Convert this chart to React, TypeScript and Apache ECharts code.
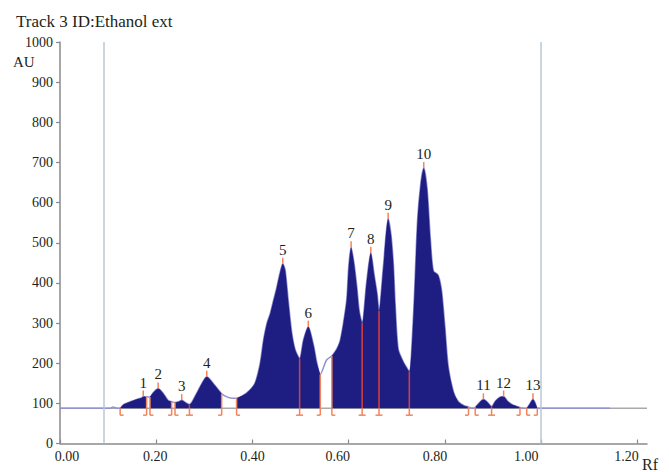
import React, { useEffect, useRef } from 'react';
import * as echarts from 'echarts';

const BASELINE = 88;

const profileRf = [
  0.0, 0.104, 0.11, 0.115, 0.119, 0.125, 0.132, 0.146, 0.159, 0.17, 0.173, 0.18,
  0.187, 0.194, 0.204, 0.215, 0.225, 0.232, 0.239, 0.246, 0.253, 0.262, 0.269,
  0.284, 0.295, 0.305, 0.319, 0.336, 0.347, 0.357, 0.367, 0.388, 0.405, 0.416,
  0.423, 0.43, 0.437, 0.443, 0.45, 0.457, 0.463, 0.468, 0.475, 0.482, 0.489, 0.498, 0.506,
  0.516, 0.527, 0.534, 0.541, 0.554, 0.565, 0.575, 0.582, 0.589, 0.596, 0.6,
  0.605, 0.611, 0.617, 0.622, 0.628, 0.637, 0.646, 0.653, 0.659, 0.663, 0.672,
  0.682, 0.688, 0.693, 0.697, 0.703, 0.713, 0.72, 0.726, 0.735, 0.743, 0.75,
  0.756, 0.763, 0.77, 0.776, 0.786, 0.793, 0.8, 0.807, 0.818, 0.828, 0.84,
  0.849, 0.856, 0.863, 0.872, 0.88, 0.889, 0.897, 0.905, 0.915, 0.922, 0.93,
  0.94, 0.956, 0.963, 0.97, 0.976, 0.983, 0.988, 0.992, 1.143,
];
const profileAU = [
  88, 88, 91, 89, 88, 88, 97, 104, 110, 114, 117, 116,
  116, 127, 137, 124, 107, 104, 102, 104, 108, 101, 97,
  125, 150, 166, 149, 124, 116, 113, 113, 126, 150, 200,
  258, 299, 324, 353, 386, 424, 448, 432, 349, 274, 233, 212, 258,
  291, 245, 200, 172, 208, 218, 235, 255, 300, 360, 440,
  489, 450, 390, 330, 300, 399, 475, 420, 374, 330, 440,
  560, 520, 445, 340, 235, 205, 190, 179, 330, 555, 650,
  686, 635, 506, 430, 419, 382, 291, 191, 128, 104, 94,
  91, 88, 90, 102, 110, 102, 92, 106, 116, 117, 106,
  97, 90, 88, 88, 98, 110, 100, 88, 88,
];

const fillStart = [0.125, 0.187, 0.239, 0.367, 0.565, 0.863, 0.97];
const fillEnd = [0.18, 0.232, 0.336, 0.541, 0.849, 0.956, 0.992];

const boundaryRf = [
  0.125, 0.18, 0.187, 0.232, 0.239, 0.269, 0.336, 0.367, 0.498, 0.541,
  0.565, 0.628, 0.663, 0.726, 0.849, 0.863, 0.897, 0.956, 0.97, 0.992,
];
const boundaryAU = [
  88, 116, 116, 104, 102, 97, 124, 113, 212, 172,
  218, 300, 330, 179, 91, 90, 92, 90, 88, 88,
];
const boundaryKind = [
  'L', 'R', 'L', 'R', 'L', 'T', 'R', 'L', 'T', 'R',
  'L', 'T', 'T', 'T', 'R', 'L', 'T', 'R', 'L', 'R',
];

const peakRf = [0.173, 0.204, 0.253, 0.305, 0.463, 0.516, 0.605, 0.646, 0.682, 0.756, 0.88, 0.922, 0.983];
const peakAU = [117, 137, 108, 166, 448, 291, 489, 475, 560, 686, 110, 117, 110];
const peakLabels = ['1', '2', '3', '4', '5', '6', '7', '8', '9', '10', '11', '12', '13'];

const refLinesRf = [0.094, 1.0];

const xTickValues = [0, 0.2, 0.4, 0.6, 0.8, 1.0, 1.2];

// label horizontal nudges (px) as drawn in the original
const xLabelShift = [7, -1, 0, -11, -10, -15, -11];

const FONT = '"Liberation Serif", "DejaVu Serif", serif';
const TEXT = '#231f20';
const NAVY = '#1e1e82';
const LAVENDER = '#9292d2';
const ORANGE = '#f3845c';
const RED = '#d8403c';

export default function App() {
  const ref = useRef<HTMLDivElement>(null);
  useEffect(() => {
    const chart = echarts.init(ref.current!, null, { renderer: 'svg' });

    const rich: any = {};
    xLabelShift.forEach((s, i) => {
      rich['s' + i] = {
        fontFamily: FONT,
        fontSize: 14,
        color: TEXT,
        padding: s >= 0 ? [0, 0, 0, 2 * s] : [0, -2 * s, 0, 0],
      };
    });

    const fillSeries = fillStart.map((a, k) => {
      const b = fillEnd[k];
      const pts: number[][] = [];
      for (let i = 0; i < profileRf.length; i++) {
        if (profileRf[i] >= a - 1e-9 && profileRf[i] <= b + 1e-9) pts.push([profileRf[i], profileAU[i]]);
      }
      return {
        type: 'line',
        z: 3,
        silent: true,
        data: pts,
        showSymbol: false,
        smooth: 0.25,
        lineStyle: { width: 0 },
        areaStyle: { color: NAVY, opacity: 1, origin: BASELINE },
      };
    });

    const option: any = {
      animation: false,
      backgroundColor: '#ffffff',
      title: {
        text: 'Track 3 ID:Ethanol ext',
        left: 16,
        top: 13,
        padding: 0,
        textStyle: { fontFamily: FONT, fontSize: 17, fontWeight: 'normal', color: TEXT },
      },
      graphic: [
        { type: 'text', left: 13, top: 54, style: { text: 'AU', font: `15px ${FONT}`, fill: TEXT } },
        { type: 'text', left: 642, top: 456, style: { text: 'Rf', font: `16px ${FONT}`, fill: TEXT } },
      ],
      grid: { left: 60, right: 22, top: 42, bottom: 28.5, containLabel: false },
      xAxis: {
        type: 'value',
        min: 0,
        max: 1.22,
        interval: 0.2,
        axisLine: { show: true, lineStyle: { color: '#8a8a8a', width: 1.5 } },
        axisTick: { show: true, inside: true, length: 4, lineStyle: { color: '#8a8a8a', width: 1.2 } },
        axisLabel: {
          margin: 6,
          fontFamily: FONT,
          fontSize: 14,
          color: TEXT,
          showMaxLabel: false,
          rich,
          formatter: (v: number) => {
            const idx = xTickValues.findIndex((t) => Math.abs(t - v) < 1e-6);
            return idx < 0 ? '' : `{s${idx}|${v.toFixed(2)}}`;
          },
        },
        splitLine: { show: false },
      },
      yAxis: {
        type: 'value',
        min: 0,
        max: 1000,
        interval: 100,
        axisLine: { show: true, lineStyle: { color: '#8a8a8a', width: 1.5 } },
        axisTick: { show: true, inside: false, length: 4, lineStyle: { color: '#8a8a8a', width: 1.2 } },
        axisLabel: {
          margin: 7,
          fontFamily: FONT,
          fontSize: 14,
          color: TEXT,
          formatter: (v: number) => String(v),
        },
        splitLine: { show: false },
      },
      series: [
        {
          type: 'line',
          z: 1,
          silent: true,
          data: [[0, BASELINE], [1.22, BASELINE]],
          showSymbol: false,
          lineStyle: { color: '#a9a9a9', width: 1.5 },
          markLine: {
            silent: true,
            symbol: ['none', 'none'],
            label: { show: false },
            lineStyle: { color: '#b7c8d4', width: 1.5, type: 'solid' },
            emphasis: { disabled: true },
            data: refLinesRf.map((v) => ({ xAxis: v })),
          },
        },
        {
          type: 'line',
          z: 2,
          silent: true,
          data: profileRf.map((r, i) => [r, profileAU[i]]),
          showSymbol: false,
          smooth: 0.25,
          lineStyle: { color: LAVENDER, width: 1.5 },
        },
        ...fillSeries,
        {
          type: 'custom',
          z: 4,
          silent: true,
          data: boundaryRf.map((r, i) => [r, boundaryAU[i]]),
          encode: { x: 0, y: 1 },
          renderItem: (params: any, api: any) => {
            const i = params.dataIndex;
            const kind = boundaryKind[i];
            const base = api.coord([api.value(0), BASELINE]);
            const top = api.coord([api.value(0), api.value(1)]);
            const x = base[0];
            const y = base[1];
            const children: any[] = [];
            if (top[1] < y - 0.5) {
              children.push({
                type: 'line',
                shape: { x1: x, y1: top[1], x2: x, y2: y },
                style: { stroke: kind === 'T' ? RED : ORANGE, lineWidth: 1.5 },
              });
            }
            const x1 = kind === 'L' ? x : x - 3.5;
            const x2 = kind === 'R' ? x : x + 3.5;
            children.push({
              type: 'line',
              shape: { x1: x, y1: y, x2: x, y2: y + 7 },
              style: { stroke: ORANGE, lineWidth: 1.5 },
            });
            children.push({
              type: 'line',
              shape: { x1, y1: y + 7, x2, y2: y + 7 },
              style: { stroke: ORANGE, lineWidth: 1.5 },
            });
            return { type: 'group', children };
          },
        },
        {
          type: 'custom',
          z: 5,
          silent: true,
          data: peakRf.map((r, i) => [r, peakAU[i]]),
          encode: { x: 0, y: 1 },
          renderItem: (params: any, api: any) => {
            const i = params.dataIndex;
            const p = api.coord([api.value(0), api.value(1)]);
            return {
              type: 'group',
              children: [
                {
                  type: 'line',
                  shape: { x1: p[0], y1: p[1], x2: p[0], y2: p[1] - 6 },
                  style: { stroke: ORANGE, lineWidth: 1.5 },
                },
                {
                  type: 'text',
                  x: p[0],
                  y: p[1] - 6.5,
                  style: {
                    text: peakLabels[i],
                    fill: TEXT,
                    font: `15px ${FONT}`,
                    align: 'center',
                    verticalAlign: 'bottom',
                    textAlign: 'center',
                    textVerticalAlign: 'bottom',
                  },
                },
              ],
            };
          },
        },
      ],
    };
    chart.setOption(option);
    return () => chart.dispose();
  }, []);
  return (
    <div
      ref={ref}
      style={{ position: 'fixed', left: 0, top: 0, width: 669, height: 472, background: '#ffffff' }}
    />
  );
}
